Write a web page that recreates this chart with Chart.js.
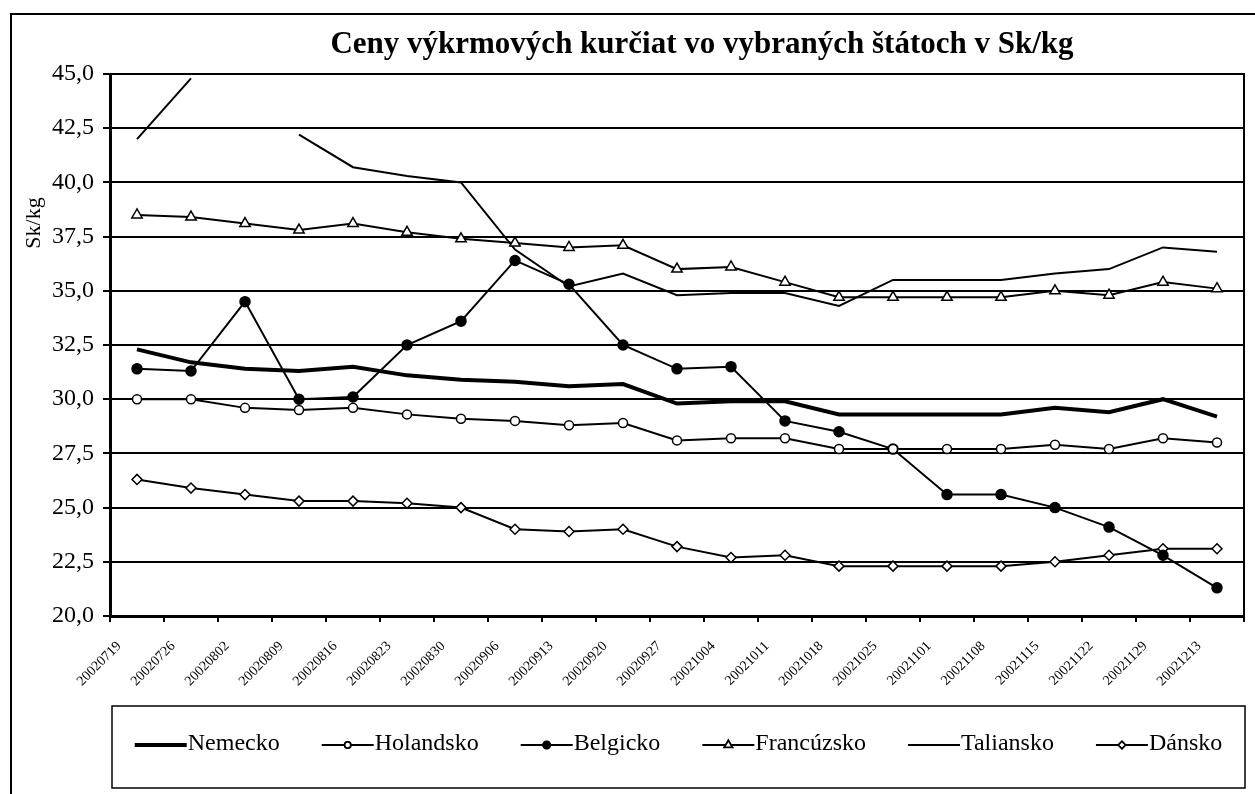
<!DOCTYPE html>
<html>
<head>
<meta charset="utf-8">
<script src="https://cdn.jsdelivr.net/npm/chart.js@4.4.1/dist/chart.umd.min.js"></script>
<style>
  html, body { margin: 0; padding: 0; background: #fff; }
  canvas { display: block; }
</style>
</head>
<body>
<canvas id="chart" width="1255" height="794"></canvas>
<script>
const title = 'Ceny výkrmových kurčiat vo vybraných štátoch v Sk/kg';
const yTitle = 'Sk/kg';

const labels = ['20020719', '20020726', '20020802', '20020809', '20020816', '20020823', '20020830',
    '20020906', '20020913', '20020920', '20020927', '20021004', '20021011', '20021018', '20021025',
    '20021101', '20021108', '20021115', '20021122', '20021129', '20021213'];

const nemecko    = [32.3, 31.7, 31.4, 31.3, 31.5, 31.1, 30.9, 30.8, 30.6, 30.7, 29.8, 29.9, 29.9, 29.3, 29.3, 29.3, 29.3, 29.6, 29.4, 30.0, 29.2];
const holandsko  = [30.0, 30.0, 29.6, 29.5, 29.6, 29.3, 29.1, 29.0, 28.8, 28.9, 28.1, 28.2, 28.2, 27.7, 27.7, 27.7, 27.7, 27.9, 27.7, 28.2, 28.0];
const belgicko   = [31.4, 31.3, 34.5, 30.0, 30.1, 32.5, 33.6, 36.4, 35.3, 32.5, 31.4, 31.5, 29.0, 28.5, 27.7, 25.6, 25.6, 25.0, 24.1, 22.8, 21.3];
const francuzsko = [38.5, 38.4, 38.1, 37.8, 38.1, 37.7, 37.4, 37.2, 37.0, 37.1, 36.0, 36.1, 35.4, 34.7, 34.7, 34.7, 34.7, 35.0, 34.8, 35.4, 35.1];
const taliansko  = [42.0, 44.8, null, 42.2, 40.7, 40.3, 40.0, 36.9, 35.2, 35.8, 34.8, 34.9, 34.9, 34.3, 35.5, 35.5, 35.5, 35.8, 36.0, 37.0, 36.8];
const dansko     = [26.3, 25.9, 25.6, 25.3, 25.3, 25.2, 25.0, 24.0, 23.9, 24.0, 23.2, 22.7, 22.8, 22.3, 22.3, 22.3, 22.3, 22.5, 22.8, 23.1, 23.1];

const yMin = 20, yMax = 45, yStep = 2.5;

const serif = '"Liberation Serif", "Times New Roman", serif';
Chart.defaults.font.family = serif;
Chart.defaults.color = '#000';

// frame, title, y title and the boxed legend drawn by hand
const decor = {
    id: 'decor',
    afterDraw(chart) {
        const ctx = chart.ctx, a = chart.chartArea;
        ctx.save();
        ctx.strokeStyle = '#000';
        ctx.fillStyle = '#000';

        ctx.lineWidth = 2;
        ctx.strokeRect(11, 14, 1300, 800);
        ctx.beginPath();
        ctx.moveTo(a.right, a.top - 1);
        ctx.lineTo(a.right, a.bottom);
        ctx.stroke();

        ctx.font = 'bold 31px ' + serif;
        ctx.textAlign = 'center';
        ctx.textBaseline = 'alphabetic';
        ctx.fillText(title, 702, 53);

        ctx.save();
        ctx.translate(34, 223);
        ctx.rotate(-Math.PI / 2);
        ctx.font = '22px ' + serif;
        ctx.textBaseline = 'middle';
        ctx.fillText(yTitle, 0, 0);
        ctx.restore();

        // legend
        const box = {left: 112, top: 706, right: 1245, bottom: 788};
        ctx.lineWidth = 1.5;
        ctx.strokeRect(box.left, box.top, box.right - box.left, box.bottom - box.top);
        ctx.font = '24px ' + serif;
        const sample = 52, gap = 42, ly = 745;
        const sets = chart.data.datasets;
        let total = gap * (sets.length - 1);
        sets.forEach(ds => { total += sample + 1 + ctx.measureText(ds.label).width; });
        let x = (box.left + box.right) / 2 - total / 2;
        sets.forEach(ds => {
            ctx.lineWidth = ds.borderWidth;
            ctx.beginPath();
            ctx.moveTo(x, ly);
            ctx.lineTo(x + sample, ly);
            ctx.stroke();
            if (ds.pointRadius > 0) {
                Chart.helpers.drawPoint(ctx, {
                    pointStyle: ds.pointStyle,
                    radius: ds.pointRadius - 1.5,
                    borderWidth: ds.pointBorderWidth,
                    rotation: 0
                }, x + sample / 2, ly);
                ctx.fillStyle = ds.pointBackgroundColor;
                ctx.strokeStyle = '#000';
                ctx.lineWidth = ds.pointBorderWidth;
                ctx.fill();
                ctx.stroke();
            }
            ctx.fillStyle = '#000';
            ctx.textAlign = 'left';
            ctx.textBaseline = 'middle';
            ctx.fillText(ds.label, x + sample + 1, ly - 1);
            x += sample + 1 + ctx.measureText(ds.label).width + gap;
        });
        ctx.restore();
    }
};

function series(label, data, width, style, radius, fill) {
    return {
        label: label,
        data: data,
        borderColor: '#000',
        borderWidth: width,
        pointStyle: style,
        pointRadius: radius,
        pointBackgroundColor: fill,
        pointBorderColor: '#000',
        pointBorderWidth: 1.5,
        pointHoverRadius: radius,
        tension: 0,
        spanGaps: false,
        fill: false
    };
}

new Chart(document.getElementById('chart').getContext('2d'), {
    type: 'line',
    data: {
        labels: labels,
        datasets: [
            series('Nemecko', nemecko, 4, 'circle', 0, '#000'),
            series('Holandsko', holandsko, 2, 'circle', 4.5, '#fff'),
            series('Belgicko', belgicko, 2, 'circle', 5, '#000'),
            series('Francúzsko', francuzsko, 2, 'triangle', 6, '#fff'),
            series('Taliansko', taliansko, 2, 'circle', 0, '#000'),
            series('Dánsko', dansko, 2, 'rectRot', 5, '#fff')
        ]
    },
    options: {
        responsive: false,
        animation: false,
        devicePixelRatio: 1,
        layout: { padding: { left: 0, top: 74, right: 11, bottom: 98 } },
        plugins: {
            legend: { display: false },
            title: { display: false },
            tooltip: { enabled: false }
        },
        scales: {
            x: {
                offset: true,
                grid: { offset: true, drawOnChartArea: false, color: '#000', lineWidth: 2, tickLength: 6 },
                border: { display: true, color: '#000', width: 3 },
                ticks: {
                    autoSkip: false, maxRotation: 45, minRotation: 45,
                    padding: 16, labelOffset: -18,
                    font: { size: 14 }
                },
                afterFit(scale) { scale.height = 80; }
            },
            y: {
                min: yMin, max: yMax,
                grid: { color: '#000', lineWidth: 2, tickLength: 7 },
                border: { display: true, color: '#000', width: 3 },
                ticks: {
                    stepSize: yStep, padding: 9,
                    font: { size: 24 },
                    callback: v => v.toFixed(1).replace('.', ',')
                },
                afterFit(scale) { scale.width = 110; }
            }
        }
    },
    plugins: [decor]
});
</script>
</body>
</html>
